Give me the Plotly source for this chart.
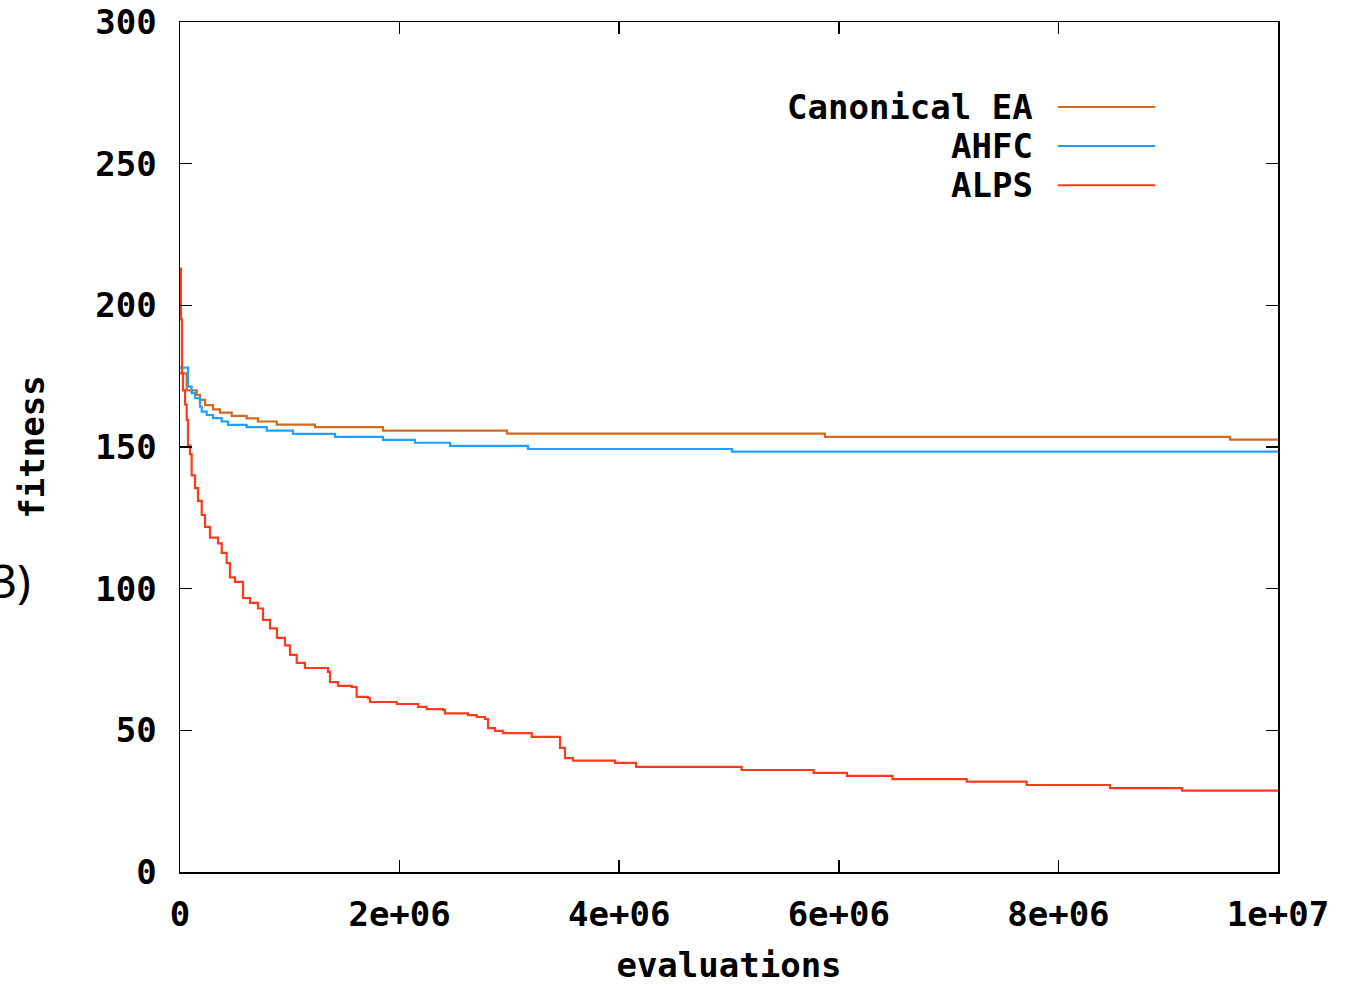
import plotly.graph_objects as go

# ---- data ----
canon_x = [0, 61000, 152000, 182000, 228000, 301000, 364000, 471000, 607000, 710000,
           881000, 1230000, 1849000, 2978000, 5874000, 9563000, 10000000]
canon_y = [176, 170, 168.4, 166.6, 164.8, 163.3, 162.1, 161, 160.1, 159,
           157.9, 157, 155.8, 154.7, 153.6, 152.6, 152.6]

ahfc_x = [0, 73000, 106000, 137000, 182000, 198000, 243000, 301000, 380000, 437000,
          607000, 790000, 1029000, 1412000, 1849000, 2140000, 2459000, 3169000, 5027000, 10000000]
ahfc_y = [178, 171.3, 169, 167.2, 164.2, 162.5, 161.3, 160.2, 159, 157.8,
          157, 155.8, 154.6, 153.6, 152.5, 151.5, 150.4, 149.3, 148.4, 148.4]

alps_x = [0, 9000, 18000, 27000, 46000, 61000, 73000, 91000, 106000, 137000,
          164000, 198000, 228000, 273000, 346000, 380000, 425000, 455000, 501000, 574000,
          638000, 710000, 756000, 820000, 883000, 956000, 1002000, 1063000, 1138000, 1348000,
          1366000, 1439000, 1564000, 1609000, 1712000, 1730000, 1974000, 2168000, 2247000, 2395000,
          2413000, 2623000, 2702000, 2778000, 2805000, 2869000, 2942000, 3203000, 3461000, 3506000,
          3579000, 3962000, 4153000, 5115000, 5770000, 6075000, 6489000, 7165000, 7710000, 8470000,
          9126000, 10000000]
alps_y = [213, 195, 176, 170, 165, 159.5, 150.5, 147.5, 140, 135.5,
          131, 126, 121.8, 118, 116, 112.6, 109, 104, 102.4, 96.7,
          95, 93, 89, 86, 82.6, 80, 76.6, 73.8, 72, 70.6,
          67, 65.7, 65.3, 61.8, 61.4, 60, 59.3, 58.3, 57.5, 57.2,
          56, 55.4, 54.7, 54, 50.8, 49.8, 49, 47.7, 43.8, 40.2,
          39.3, 38.5, 37.1, 36.0, 35.0, 33.9, 32.8, 31.9, 30.7, 29.6,
          28.7, 28.7]

series_names = ["Canonical EA", "AHFC", "ALPS"]
series_colors = ["#d2691e", "#1ea0ff", "#ff3a1a"]

x_tickvals = [0, 2e6, 4e6, 6e6, 8e6, 1e7]
x_ticktext = ["0", "2e+06", "4e+06", "6e+06", "8e+06", "1e+07"]
y_tickvals = [0, 50, 100, 150, 200, 250, 300]
y_ticktext = ["0", "50", "100", "150", "200", "250", "300"]

FONT = "DejaVu Sans Mono"
FS = 34

fig = go.Figure()
for name, xs, ys, col in zip(series_names, [canon_x, ahfc_x, alps_x],
                             [canon_y, ahfc_y, alps_y], series_colors):
    fig.add_trace(go.Scatter(x=xs, y=ys, mode="lines", name=name,
                             line=dict(color=col, width=2.2, shape="hv"),
                             showlegend=False))

# gnuplot-style legend: right-aligned text followed by line sample
leg_y = [0.90, 0.854, 0.808]
for name, col, yy in zip(series_names, series_colors, leg_y):
    fig.add_annotation(xref="paper", yref="paper", x=0.7787, y=yy, text=name,
                       showarrow=False, xanchor="right", yanchor="middle",
                       font=dict(family=FONT, size=FS, color="black", weight="bold"))
    fig.add_shape(type="line", xref="paper", yref="paper", x0=0.7996, x1=0.888,
                  y0=yy, y1=yy, line=dict(color=col, width=2))

# cropped panel label at far left (it is cut by the image edge in the reference too)
fig.add_annotation(xref="paper", yref="paper", x=-0.134, y=0.3435, text="(3)",
                   showarrow=False, xanchor="right", yanchor="middle",
                   font=dict(family="Noto Sans", size=46, color="black"))

axis_common = dict(showline=True, linecolor="black", linewidth=1.5, mirror="ticks",
                   ticks="inside", ticklen=12, tickwidth=1.5, tickcolor="black",
                   showgrid=False, zeroline=False, automargin=False,
                   ticklabeloverflow="allow",
                   tickfont=dict(family=FONT, size=FS, color="black", weight="bold"))

fig.update_xaxes(range=[0, 1e7], tickvals=x_tickvals, ticktext=x_ticktext,
                 ticklabelstandoff=12,
                 title=dict(text="evaluations",
                            font=dict(family=FONT, size=FS, color="black", weight="bold"),
                            standoff=30),
                 **axis_common)
fig.update_yaxes(range=[0, 300], tickvals=y_tickvals, ticktext=y_ticktext,
                 ticklabelstandoff=15,
                 title=dict(text="fitness",
                            font=dict(family=FONT, size=FS, color="black", weight="bold"),
                            standoff=40),
                 **axis_common)

fig.update_layout(width=1357, height=985,
                  margin=dict(l=180, r=79, t=22, b=113),
                  plot_bgcolor="white", paper_bgcolor="white")

# remove the default 8px page margin so the figure fills the window exactly
fig.write_html("out.html",
               config={"displayModeBar": False, "staticPlot": True},
               post_script="document.body.style.margin='0';document.body.style.overflow='hidden';")
